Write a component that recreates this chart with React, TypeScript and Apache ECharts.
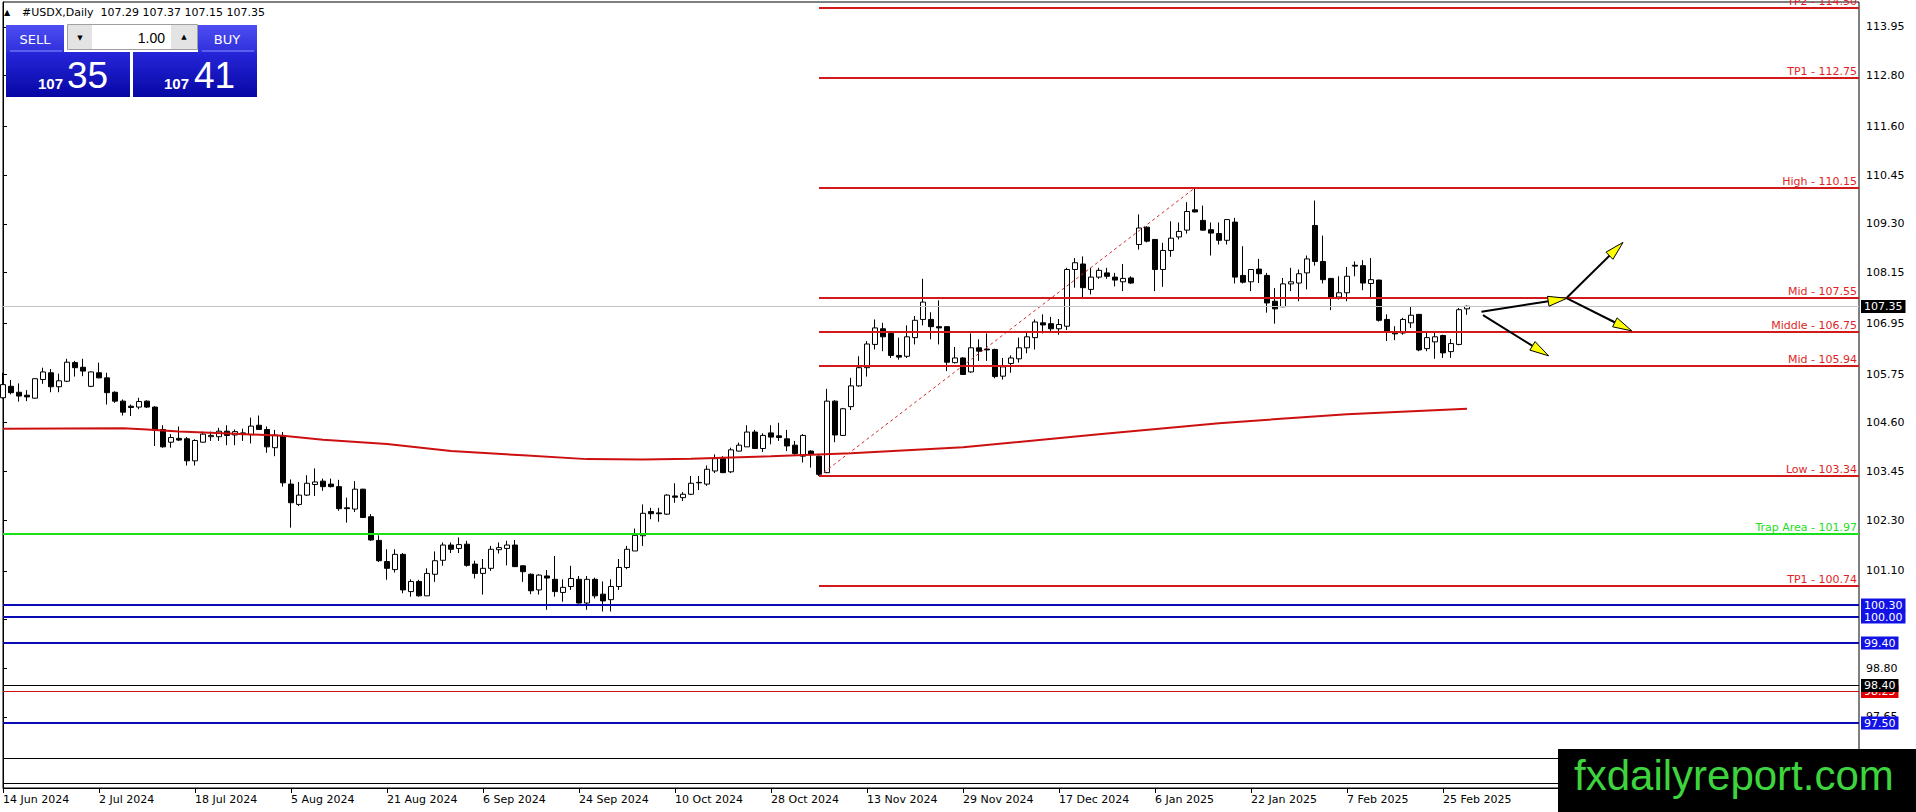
import React, { useEffect, useRef } from "react";
import * as echarts from "echarts";

// ---------- DATA ----------
const symbolName = "#USDX,Daily";
const dateLabels = [
  "14 Jun 2024", "2 Jul 2024", "18 Jul 2024", "5 Aug 2024", "21 Aug 2024", "6 Sep 2024",
  "24 Sep 2024", "10 Oct 2024", "28 Oct 2024", "13 Nov 2024", "29 Nov 2024", "17 Dec 2024",
  "6 Jan 2025", "22 Jan 2025", "7 Feb 2025", "25 Feb 2025",
];
const barsPerLabel = 12;
const slotCount = 233; // bar slots across the window (incl. empty right margin)

// bars as [open, high, low, close], 12 bars per block
const fromJun14 = [
  [105.19, 105.78, 105.17, 105.5], [105.46, 105.61, 105.27, 105.31], [105.32, 105.53, 105.1, 105.23],
  [105.25, 105.37, 105.11, 105.21], [105.18, 105.65, 105.17, 105.64], [105.62, 105.9, 105.52, 105.8],
  [105.78, 105.87, 105.32, 105.45], [105.45, 105.76, 105.32, 105.59], [105.58, 106.11, 105.56, 106.03],
  [106.02, 106.06, 105.69, 105.9], [105.91, 106.11, 105.7, 105.82], [105.46, 105.81, 105.44, 105.8],
];
const fromJul02 = [
  [105.78, 106.02, 105.65, 105.66], [105.66, 105.78, 105.03, 105.31], [105.32, 105.34, 105.07, 105.11],
  [105.11, 105.15, 104.77, 104.85], [104.99, 105.03, 104.76, 104.96], [104.97, 105.19, 104.92, 105.1],
  [105.11, 105.13, 104.95, 104.97], [104.97, 104.99, 104.05, 104.43], [104.44, 104.54, 104.01, 104.03],
  [104.14, 104.33, 104.01, 104.25], [104.23, 104.51, 104.17, 104.19], [104.22, 104.26, 103.59, 103.7],
];
const fromJul18 = [
  [103.7, 104.21, 103.59, 104.18], [104.14, 104.39, 104.13, 104.33], [104.27, 104.39, 104.17, 104.3],
  [104.27, 104.48, 104.17, 104.4], [104.4, 104.54, 104.07, 104.3], [104.31, 104.44, 104.07, 104.39],
  [104.36, 104.46, 104.17, 104.32], [104.32, 104.72, 104.11, 104.52], [104.54, 104.77, 104.43, 104.44],
  [104.44, 104.51, 103.89, 104.03], [104.01, 104.43, 103.81, 104.31], [104.29, 104.38, 103.09, 103.18],
];
const fromAug05 = [
  [103.15, 103.26, 102.12, 102.71], [102.67, 103.2, 102.63, 102.89], [102.89, 103.36, 102.87, 103.17],
  [103.14, 103.52, 102.87, 103.2], [103.22, 103.28, 102.99, 103.09], [103.15, 103.28, 103.07, 103.09],
  [103.09, 103.25, 102.52, 102.57], [102.59, 102.83, 102.24, 102.57], [102.56, 103.22, 102.49, 103.03],
  [103.03, 103.04, 102.35, 102.36], [102.38, 102.44, 101.81, 101.83], [101.82, 101.94, 101.31, 101.34],
];
const fromAug21 = [
  [101.32, 101.61, 100.89, 101.16], [101.13, 101.61, 101.06, 101.49], [101.49, 101.52, 100.57, 100.65],
  [100.61, 100.9, 100.49, 100.85], [100.85, 100.89, 100.49, 100.51], [100.51, 101.16, 100.51, 101.04],
  [101.02, 101.56, 100.84, 101.34], [101.35, 101.77, 101.22, 101.71], [101.71, 101.77, 101.52, 101.61],
  [101.63, 101.89, 101.52, 101.72], [101.73, 101.81, 101.2, 101.23], [101.26, 101.34, 100.92, 101.04],
];
const fromSep06 = [
  [101.04, 101.38, 100.54, 101.16], [101.16, 101.69, 101.1, 101.61], [101.6, 101.77, 101.51, 101.65],
  [101.63, 101.81, 101.23, 101.71], [101.71, 101.83, 101.19, 101.2], [101.22, 101.23, 100.84, 101.08],
  [101.02, 101.04, 100.55, 100.63], [100.65, 101.02, 100.54, 101.0], [100.98, 101.12, 100.18, 100.93],
  [100.9, 101.45, 100.49, 100.61], [100.59, 100.9, 100.37, 100.71], [100.73, 101.22, 100.65, 100.92],
];
const fromSep24 = [
  [100.9, 100.98, 100.33, 100.34], [100.34, 100.98, 100.18, 100.9], [100.9, 100.94, 100.45, 100.51],
  [100.55, 100.85, 100.14, 100.39], [100.42, 100.9, 100.14, 100.73], [100.73, 101.38, 100.65, 101.18],
  [101.18, 101.69, 101.14, 101.61], [101.57, 102.1, 101.57, 101.94], [101.93, 102.67, 101.69, 102.46],
  [102.5, 102.59, 102.32, 102.45], [102.47, 102.59, 102.26, 102.45], [102.44, 102.91, 102.42, 102.89],
];
const fromOct10 = [
  [102.87, 103.17, 102.71, 102.84], [102.83, 102.96, 102.75, 102.91], [102.91, 103.34, 102.89, 103.17],
  [103.19, 103.34, 103.01, 103.18], [103.15, 103.59, 103.11, 103.5], [103.46, 103.85, 103.41, 103.75],
  [103.75, 103.81, 103.41, 103.42], [103.44, 104.01, 103.41, 103.96], [103.93, 104.13, 103.92, 104.07],
  [104.03, 104.54, 104.03, 104.38], [104.38, 104.43, 103.99, 103.99], [103.99, 104.35, 103.91, 104.3],
];
const fromOct28 = [
  [104.36, 104.54, 104.09, 104.26], [104.29, 104.6, 104.17, 104.25], [104.22, 104.43, 103.93, 104.05],
  [104.07, 104.17, 103.83, 103.87], [103.81, 104.33, 103.66, 104.3], [103.93, 103.95, 103.54, 103.85],
  [103.81, 103.83, 103.34, 103.38], [103.42, 105.4, 103.41, 105.11], [105.11, 105.13, 104.14, 104.31],
  [104.3, 104.95, 104.29, 104.93], [104.98, 105.66, 104.9, 105.47], [105.47, 106.17, 105.45, 105.9],
];
const fromNov13 = [
  [105.9, 106.53, 105.69, 106.46], [106.45, 107.04, 106.33, 106.84], [106.82, 106.96, 106.29, 106.63],
  [106.71, 106.74, 106.13, 106.19], [106.19, 106.61, 106.09, 106.15], [106.17, 106.9, 106.13, 106.63],
  [106.61, 107.12, 106.45, 107.02], [107.04, 108.0, 106.9, 107.45], [107.04, 107.21, 106.57, 106.87],
  [106.87, 107.49, 106.45, 106.84], [106.87, 106.88, 105.82, 106.03], [106.02, 106.39, 106.0, 106.13],
];
const fromNov29 = [
  [106.13, 106.15, 105.73, 105.74], [105.8, 106.71, 105.78, 106.37], [106.37, 106.57, 106.06, 106.29],
  [106.34, 106.71, 106.06, 106.32], [106.33, 106.35, 105.65, 105.69], [105.7, 106.13, 105.62, 105.92],
  [106.0, 106.19, 105.78, 106.13], [106.11, 106.61, 106.02, 106.37], [106.37, 106.72, 106.24, 106.63],
  [106.61, 107.04, 106.33, 106.98], [106.96, 107.16, 106.71, 106.91], [106.94, 107.1, 106.72, 106.82],
];
const fromDec17 = [
  [106.82, 107.05, 106.68, 106.92], [106.88, 108.26, 106.79, 108.22], [108.22, 108.49, 107.79, 108.38],
  [108.35, 108.53, 107.57, 107.79], [107.75, 108.26, 107.63, 108.04], [108.04, 108.26, 108.0, 108.2],
  [108.14, 108.26, 108.0, 108.06], [108.04, 108.14, 107.82, 107.97], [107.93, 108.35, 107.71, 108.01],
  [108.02, 108.06, 107.88, 107.9], [108.81, 109.52, 108.69, 109.2], [109.22, 109.24, 108.86, 108.89],
];
const fromJan06 = [
  [108.93, 108.94, 107.71, 108.22], [108.22, 108.85, 107.81, 108.67], [108.67, 109.36, 108.52, 108.96],
  [108.99, 109.33, 108.93, 109.12], [109.15, 109.81, 109.07, 109.59], [109.63, 110.15, 109.57, 109.58],
  [109.38, 109.73, 109.14, 109.15], [109.16, 109.33, 108.55, 109.08], [109.07, 109.33, 108.81, 108.91],
  [108.91, 109.41, 108.81, 109.4], [109.34, 109.44, 107.89, 108.04], [108.08, 108.77, 107.89, 107.92],
];
const fromJan22 = [
  [107.93, 108.23, 107.71, 108.22], [108.23, 108.47, 107.9, 108.12], [108.08, 108.14, 107.2, 107.43],
  [107.47, 107.78, 106.94, 107.29], [107.34, 108.02, 107.33, 107.88], [107.88, 108.26, 107.71, 107.93],
  [107.9, 108.22, 107.47, 108.12], [108.14, 108.55, 107.75, 108.47], [109.26, 109.85, 108.31, 108.41],
  [108.41, 109.02, 107.89, 107.98], [108.01, 108.02, 107.26, 107.57], [107.57, 108.06, 107.51, 107.67],
];
const fromFeb07 = [
  [107.67, 108.28, 107.47, 108.06], [108.32, 108.41, 108.06, 108.3], [108.31, 108.44, 107.73, 107.9],
  [107.89, 108.49, 107.57, 107.98], [107.97, 107.98, 106.99, 107.02], [107.04, 107.16, 106.53, 106.76],
  [106.74, 106.88, 106.55, 106.7], [106.72, 107.08, 106.68, 107.04], [106.96, 107.35, 106.84, 107.14],
  [107.16, 107.16, 106.29, 106.32], [106.35, 106.72, 106.29, 106.61], [106.51, 106.72, 106.11, 106.63],
];
const fromFeb25 = [
  [106.66, 106.68, 106.13, 106.25], [106.28, 106.58, 106.13, 106.47], [106.45, 107.31, 106.43, 107.27],
  [107.29, 107.37, 107.15, 107.35],
];

// moving average, read at a few bars (index -> value)
const maIndex = [0, 15, 18, 22, 29, 35, 40, 48, 56, 65, 73, 80, 86, 96, 106, 120, 137, 152, 168, 183];
const maValue = [104.46, 104.47, 104.44, 104.39, 104.34, 104.29, 104.2, 104.1, 103.93, 103.83, 103.74, 103.73,
  103.75, 103.81, 103.88, 104.02, 104.33, 104.59, 104.8, 104.93];

// right price scale
const yMin = 95.97;
const yMax = 114.54;
const yTicks = [97.65, 98.8, 99.95, 101.1, 102.3, 103.45, 104.6, 105.75, 106.95, 108.15, 109.3, 110.45, 111.6, 112.8, 113.95];

// Fibonacci-style levels drawn from the swing low bar
const fibLowIndex = 102;
const fibHighIndex = 149;
const fibValues = [114.4, 112.75, 110.15, 107.55, 106.75, 105.94, 103.34, 100.74];
const fibTexts = ["TP2 - 114.50", "TP1 - 112.75", "High - 110.15", "Mid - 107.55", "Middle - 106.75",
  "Mid - 105.94", "Low - 103.34", "TP1 - 100.74"];
const trapValue = 101.97;
const trapText = "Trap Area - 101.97";
const blueValues = [100.3, 100.0, 99.4, 97.5];
const thinRedValue = 98.25;
const thinBlackBoxValue = 98.4;
const thinBlackValues = [96.68, 96.09];

// drawn arrows: [fromBar, fromPrice, toBar, toPrice]
const arrowLines = [
  [184.8, 107.22, 195.5, 107.54],
  [195.5, 107.56, 202.5, 108.86],
  [195.5, 107.54, 203.6, 106.77],
  [185.0, 107.14, 193.2, 106.18],
];
const watermarkText = "fxdailyreport.com";
const lotText = "1.00";
const askPrice = 107.41;

// ---------- BUILD ----------
const bars = [fromJun14, fromJul02, fromJul18, fromAug05, fromAug21, fromSep06, fromSep24, fromOct10,
  fromOct28, fromNov13, fromNov29, fromDec17, fromJan06, fromJan22, fromFeb07, fromFeb25].flat();
const candles = bars.map(([o, h, l, c]) => [o, c, l, h]);
const lastBar = bars[bars.length - 1];
const bidPrice = lastBar[3];

const labelSet = new Set<number>();
const categories: string[] = [];
for (let i = 0; i < slotCount; i++) {
  if (i % barsPerLabel === 0 && i / barsPerLabel < dateLabels.length) {
    categories.push(dateLabels[i / barsPerLabel]);
    labelSet.add(i);
  } else categories.push("b" + i);
}

const maData: (number | null)[] = bars.map(() => null);
maIndex.forEach((idx, k) => { maData[idx] = maValue[k]; });

const FONT = '11px "DejaVu Sans"';
const RED = "#d21a1a";
const BLUE_LINE = "#0a0ab4";
const BLUE_BOX = "#1212e6";

type Level = { start: number; value: number; color: string; width: number; text?: string; textColor?: string; box?: string };
const levels: Level[] = [];
levels.push({ start: 0, value: bidPrice, color: "#c4c4c4", width: 1, box: "#000" });
fibValues.forEach((v, k) => levels.push({ start: fibLowIndex, value: v, color: RED, width: 2, text: fibTexts[k], textColor: "#e01f26" }));
levels.push({ start: 0, value: trapValue, color: "#19e019", width: 2, text: trapText, textColor: "#22dd22" });
thinBlackValues.forEach((v) => levels.push({ start: 0, value: v, color: "#000", width: 1 }));
levels.push({ start: 0, value: thinRedValue, color: "#cc1010", width: 1, box: "#e00000" });
levels.push({ start: 0, value: thinBlackBoxValue, color: "#000", width: 1, box: "#000" });
blueValues.forEach((v) => levels.push({ start: 0, value: v, color: BLUE_LINE, width: 2, box: BLUE_BOX }));

const priceParts = (p: number) => {
  const s = p.toFixed(2);
  return [s.slice(0, s.indexOf(".")), s.slice(s.indexOf(".") + 1)];
};

function buildGraphic() {
  const grad = (a: string, b: string) => new echarts.graphic.LinearGradient(0, 0, 0, 1, [
    { offset: 0, color: a }, { offset: 1, color: b }]);
  const [bidBig, bidSmall] = priceParts(bidPrice);
  const [askBig, askSmall] = priceParts(askPrice);
  const header = `${symbolName}  ${lastBar.map((v) => v.toFixed(2)).join(" ")}`;
  const els: any[] = [
    { type: "text", x: 4, y: 12, style: { text: "\u25B2", font: '8px "DejaVu Sans"', fill: "#000", verticalAlign: "middle" } },
    { type: "text", x: 22, y: 12, style: { text: header, font: FONT, fill: "#000", verticalAlign: "middle" } },
    // sell / buy headers
    { type: "rect", shape: { x: 6, y: 25, width: 58, height: 27 }, style: { fill: grad("#4e4ef3", "#3030dc") } },
    { type: "line", shape: { x1: 10, y1: 51, x2: 62, y2: 51 }, style: { stroke: "#8c8cff", lineWidth: 1 } },
    { type: "rect", shape: { x: 198, y: 25, width: 59, height: 27 }, style: { fill: grad("#4e4ef3", "#3030dc") } },
    { type: "line", shape: { x1: 202, y1: 51, x2: 254, y2: 51 }, style: { stroke: "#8c8cff", lineWidth: 1 } },
    // lot box
    { type: "rect", shape: { x: 67.5, y: 24.5, width: 130, height: 25 }, style: { fill: "#fff", stroke: "#a0a0a0", lineWidth: 1 } },
    { type: "rect", shape: { x: 68, y: 25, width: 24, height: 24 }, style: { fill: "#e3e3e3" } },
    { type: "rect", shape: { x: 171, y: 25, width: 26, height: 24 }, style: { fill: "#e3e3e3" } },
    { type: "text", x: 80, y: 38, style: { text: "\u25BC", font: '7px "DejaVu Sans"', fill: "#000", align: "center", verticalAlign: "middle" } },
    { type: "text", x: 184, y: 37, style: { text: "\u25B2", font: '7px "DejaVu Sans"', fill: "#000", align: "center", verticalAlign: "middle" } },
    { type: "text", x: 165, y: 38, style: { text: lotText, font: '14px "Liberation Sans"', fill: "#000", align: "right", verticalAlign: "middle" } },
    // price blocks
    { type: "rect", shape: { x: 6, y: 52, width: 124, height: 45 }, style: { fill: grad("#2626da", "#0707a4") } },
    { type: "rect", shape: { x: 133, y: 52, width: 124, height: 45 }, style: { fill: grad("#2626da", "#0707a4") } },
    { type: "text", x: 35, y: 39, style: { text: "SELL", font: '13px "DejaVu Sans"', fill: "#fff", align: "center", verticalAlign: "middle" } },
    { type: "text", x: 227, y: 39, style: { text: "BUY", font: '13px "DejaVu Sans"', fill: "#fff", align: "center", verticalAlign: "middle" } },
    { type: "text", x: 38, y: 83, style: { text: bidBig, font: 'bold 15px "Liberation Sans"', fill: "#fff", verticalAlign: "middle" } },
    { type: "text", x: 67, y: 75, style: { text: bidSmall, font: '37px "Liberation Sans"', fill: "#fff", verticalAlign: "middle" } },
    { type: "text", x: 164, y: 83, style: { text: askBig, font: 'bold 15px "Liberation Sans"', fill: "#fff", verticalAlign: "middle" } },
    { type: "text", x: 194, y: 75, style: { text: askSmall, font: '37px "Liberation Sans"', fill: "#fff", verticalAlign: "middle" } },
    // watermark
    { type: "rect", shape: { x: 1558, y: 749, width: 358, height: 63 }, style: { fill: "#000" } },
    { type: "text", x: 1574, y: 775, style: { text: watermarkText, font: '42px "Liberation Sans"', fill: "#3dd43d", verticalAlign: "middle" } },
  ];
  return els.map((e) => ({ ...e, z: 100 }));
}

export default function App() {
  const ref = useRef<HTMLDivElement>(null);
  useEffect(() => {
    if (!ref.current) return;
    const chart = echarts.init(ref.current, null, { renderer: "svg" });
    const xMax = slotCount - 1;
    const option: any = {
      animation: false,
      backgroundColor: "#fff",
      grid: { left: 3, right: 57, top: 2, bottom: 24, show: true, borderColor: "#000", borderWidth: 1,
        backgroundColor: "#fff", containLabel: false, outerBoundsMode: "none" },
      xAxis: [
        {
          type: "category", data: categories, boundaryGap: false, position: "bottom",
          axisLine: { show: true, lineStyle: { color: "#000", width: 1 } },
          axisTick: { show: true, length: 5, interval: (i: number) => labelSet.has(i), lineStyle: { color: "#000" } },
          axisLabel: { show: true, interval: (i: number) => labelSet.has(i), align: "left", margin: 6,
            color: "#000", fontFamily: "DejaVu Sans", fontSize: 11 },
          splitLine: { show: false },
        },
        { type: "value", min: 0, max: xMax, show: false, gridIndex: 0 },
      ],
      yAxis: {
        type: "value", position: "right", min: yMin, max: yMax,
        axisLine: { show: true, lineStyle: { color: "#000", width: 1 } },
        axisTick: { show: true, length: 4, inside: false, customValues: yTicks, lineStyle: { color: "#000" } },
        axisLabel: { show: true, customValues: yTicks, formatter: (v: number) => v.toFixed(2), margin: 7,
          color: "#000", fontFamily: "DejaVu Sans", fontSize: 11 },
        splitLine: { show: false },
      },
      series: [
        {
          type: "candlestick", xAxisIndex: 0, yAxisIndex: 0, data: candles, barWidth: 5, z: 2,
          itemStyle: { color: "#fff", color0: "#000", borderColor: "#000", borderColor0: "#000",
            borderColorDoji: "#000", borderWidth: 1 },
        },
        {
          type: "line", xAxisIndex: 0, yAxisIndex: 0, data: maData, connectNulls: true, symbol: "none",
          lineStyle: { color: "#cc1010", width: 2 }, z: 3, silent: true,
        },
        {
          type: "line", xAxisIndex: 1, yAxisIndex: 0, symbol: "none", z: 3, silent: true,
          data: [[fibLowIndex, fibValues[6]], [fibHighIndex, fibValues[2]]],
          lineStyle: { color: "#d42a2a", width: 1, type: [3, 3] },
        },
        {
          type: "custom", xAxisIndex: 1, yAxisIndex: 0, clip: false, z: 4, silent: true,
          data: levels.map((l) => [l.start, l.value]),
          renderItem: (params: any, api: any) => {
            const lv = levels[params.dataIndex];
            const p1 = api.coord([lv.start, lv.value]);
            const p2 = api.coord([xMax, lv.value]);
            const y = Math.round(p1[1]) + (lv.width === 1 ? 0.5 : 0);
            const children: any[] = [
              { type: "line", shape: { x1: p1[0], y1: y, x2: p2[0], y2: y }, style: { stroke: lv.color, lineWidth: lv.width } },
            ];
            if (lv.text) {
              children.push({ type: "text", x: p2[0] - 2, y: y - 7,
                style: { text: lv.text, font: FONT, fill: lv.textColor, align: "right", verticalAlign: "middle" } });
            }
            if (lv.box) {
              children.push({ type: "text", x: p2[0] + 2, y: y,
                style: { text: lv.value.toFixed(2), font: FONT, fill: "#fff", align: "left", verticalAlign: "middle",
                  backgroundColor: lv.box, padding: [1, 3, 0, 3], lineHeight: 12 } });
            }
            return { type: "group", children };
          },
        },
        {
          type: "custom", xAxisIndex: 1, yAxisIndex: 0, clip: false, z: 5, silent: true,
          data: arrowLines, encode: { x: [0, 2], y: [1, 3] },
          renderItem: (params: any, api: any) => {
            const a = arrowLines[params.dataIndex];
            const p1 = api.coord([a[0], a[1]]);
            const p2 = api.coord([a[2], a[3]]);
            const dx = p2[0] - p1[0], dy = p2[1] - p1[1];
            const len = Math.hypot(dx, dy) || 1;
            const ux = dx / len, uy = dy / len;
            const hl = 19, hw = 5;
            const bx = p2[0] - ux * hl, by = p2[1] - uy * hl;
            return {
              type: "group",
              children: [
                { type: "line", shape: { x1: p1[0], y1: p1[1], x2: bx + ux * 2, y2: by + uy * 2 }, style: { stroke: "#000", lineWidth: 2 } },
                { type: "polygon", shape: { points: [[p2[0], p2[1]], [bx - uy * hw, by + ux * hw], [bx + uy * hw, by - ux * hw]] },
                  style: { fill: "#ffff00", stroke: "#000", lineWidth: 1 } },
              ],
            };
          },
        },
      ],
      graphic: buildGraphic(),
    };
    chart.setOption(option);
    return () => chart.dispose();
  }, []);
  return <div ref={ref} style={{ position: "absolute", left: 0, top: 0, width: 1916, height: 812 }} />;
}
